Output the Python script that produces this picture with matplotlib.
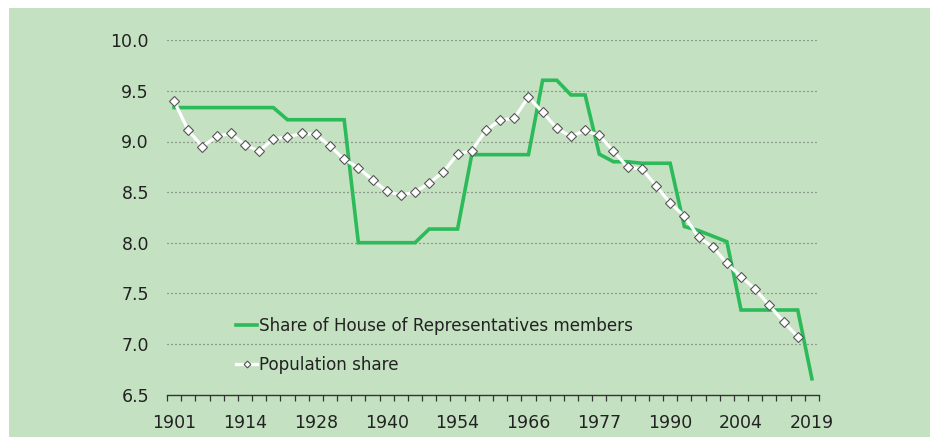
import matplotlib
matplotlib.use("Agg")
import matplotlib.pyplot as plt
from matplotlib.patches import Rectangle
import numpy as np

years = [1901, 1903, 1906, 1910, 1913, 1914, 1917, 1919, 1922, 1925, 1928, 1929,
         1931, 1934, 1937, 1940, 1943, 1946, 1949, 1951, 1954, 1955, 1958, 1961,
         1963, 1966, 1969, 1972, 1974, 1975, 1977, 1980, 1983, 1984, 1987, 1990,
         1993, 1996, 1998, 2001, 2004, 2007, 2010, 2013, 2016, 2019]

house_share = [9.335, 9.335, 9.335, 9.335, 9.335, 9.335, 9.335, 9.335,
               9.215, 9.215, 9.215, 9.215, 9.215,
               8.0, 8.0, 8.0, 8.0, 8.0,
               8.135, 8.135, 8.135,
               8.87, 8.87, 8.87, 8.87, 8.87,
               9.605, 9.605, 9.46, 9.46,
               8.875, 8.80, 8.80, 8.785, 8.785, 8.785,
               8.16, 8.12, 8.065, 8.01,
               7.335, 7.335, 7.335, 7.335, 7.335,
               6.655]

pop_share = [9.40, 9.11, 8.95, 9.05, 9.08, 8.965, 8.905, 9.025, 9.045, 9.08,
             9.07, 8.955, 8.825, 8.74, 8.62, 8.51, 8.47, 8.50, 8.59, 8.70,
             8.875, 8.91, 9.11, 9.21, 9.23, 9.44, 9.29, 9.13, 9.05, 9.11,
             9.06, 8.905, 8.745, 8.73, 8.565, 8.39, 8.265, 8.055, 7.96, 7.795,
             7.665, 7.54, 7.38, 7.22, 7.07]

tick_years = [1901, 1914, 1928, 1940, 1954, 1966, 1977, 1990, 2004, 2019]
yticks = [6.5, 7.0, 7.5, 8.0, 8.5, 9.0, 9.5, 10.0]

label_house = "Share of House of Representatives members"
label_pop = "Population share"

BG = "#c4e2c1"
GREEN = "#2dba5a"
TXT = "#222222"

W, H = 936, 437
fig = plt.figure(figsize=(W / 100, H / 100), dpi=100, facecolor="white")
fig.patches.append(Rectangle((9 / W, 0), (930 - 9) / W, (437 - 8) / H,
                             transform=fig.transFigure, facecolor=BG,
                             edgecolor="none", zorder=-10))

ax = fig.add_axes([167 / W, 42.5 / H, (819 - 167) / W, (394.5 - 40.3) / H])
ax.set_facecolor("none")

x_house = np.arange(len(house_share))
x_pop = np.arange(len(pop_share))

ax.plot(x_house, house_share, color=GREEN, lw=2.6, solid_joinstyle="miter",
        label=label_house, zorder=3)
ax.plot(x_pop, pop_share, color="white", lw=2.3, marker="D", markersize=4.6,
        markerfacecolor="white", markeredgecolor="#555555", markeredgewidth=0.8,
        label=label_pop, zorder=4)

ax.set_xlim(-0.5, len(years) - 0.5)
ax.set_ylim(6.5, 10.0)

ax.set_yticks(yticks)
ax.set_yticklabels([f"{v:.1f}" for v in yticks])
ax.tick_params(axis="y", length=0, pad=13, labelsize=12.5, labelcolor=TXT)
for v in yticks[1:]:
    ax.axhline(v, color="#555555", lw=0.9, dashes=(0.8, 2.4), zorder=1)

major_idx = [years.index(y) for y in tick_years]
ax.set_xticks(major_idx)
ax.set_xticklabels([str(y) for y in tick_years])
ax.set_xticks(np.arange(-0.5, len(years), 1.0), minor=True)
ax.tick_params(axis="x", which="major", length=0, pad=14, labelsize=12.5,
               labelcolor=TXT)
ax.tick_params(axis="x", which="minor", length=4.5, width=0.9, color="#333333",
               direction="out")

for s in ["left", "right", "top"]:
    ax.spines[s].set_visible(False)
ax.spines["bottom"].set_color("#333333")
ax.spines["bottom"].set_linewidth(1.0)

leg = ax.legend(loc="upper left", bbox_to_anchor=((236 - 167) / (819 - 167), (394.5 - 317) / (394.5 - 40.3)),
                frameon=False, fontsize=12.1, handlelength=1.25, handletextpad=0.1,
                labelspacing=1.25, borderpad=0, borderaxespad=0, labelcolor=TXT,
                markerscale=0.75)

fig.savefig("out.png", dpi=100, facecolor="white")
